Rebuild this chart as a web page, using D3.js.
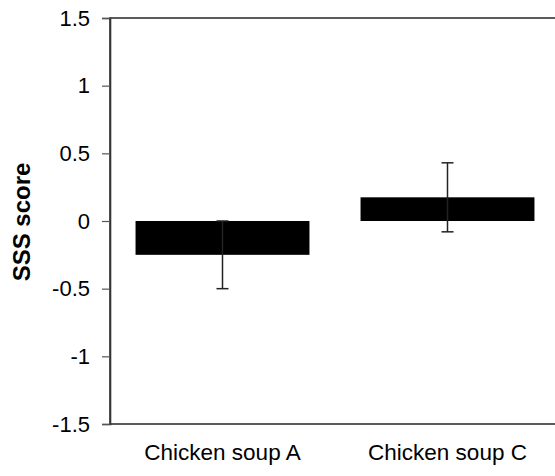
<!DOCTYPE html>
<html>
<head>
<meta charset="utf-8">
<script src="https://cdn.jsdelivr.net/npm/d3@7"></script>
<style>
  body { margin: 0; background: #fff; }
  svg { display: block; font-family: "Liberation Sans", Arial, sans-serif; }
</style>
</head>
<body>
<div id="chart"></div>
<script>
(function () {
    'use strict';

    // data
    var categories = ["Chicken soup A", "Chicken soup C"];
    var means = [-0.25, 0.175];
    var errors = [0.25, 0.255];
    var yTicks = [-1.5, -1, -0.5, 0, 0.5, 1, 1.5];
    var yTitle = "SSS score";

    var width = 555, height = 476;
    var left = 110, top = 18, bottom = 424, right = 560;

    var svg = d3.select("#chart").append("svg")
        .attr("width", width)
        .attr("height", height);

    var y = d3.scaleLinear().domain([-1.5, 1.5]).range([bottom, top]);
    var x = d3.scaleBand().domain(categories).range([left, right])
        .paddingInner(0.227).paddingOuter(0.1135);

    // frame (right side falls off the canvas)
    svg.append("rect")
        .attr("x", left).attr("y", top)
        .attr("width", right - left).attr("height", bottom - top)
        .attr("fill", "none").attr("stroke", "#333").attr("stroke-width", 1.6);

    // bars
    svg.selectAll("rect.bar")
        .data(means)
        .enter().append("rect")
        .attr("class", "bar")
        .attr("x", (d, i) => x(categories[i]))
        .attr("width", x.bandwidth())
        .attr("y", d => y(Math.max(0, d)))
        .attr("height", d => Math.abs(y(d) - y(0)))
        .attr("fill", "#000");

    // error bars
    var eb = svg.selectAll("g.err")
        .data(means)
        .enter().append("g")
        .attr("class", "err")
        .attr("stroke", "#222")
        .attr("stroke-width", 1.5);
    var cx = (d, i) => x(categories[i]) + x.bandwidth() / 2;
    eb.append("line")
        .attr("x1", cx).attr("x2", cx)
        .attr("y1", (d, i) => y(d + errors[i]))
        .attr("y2", (d, i) => y(d - errors[i]));
    eb.append("line")
        .attr("x1", (d, i) => cx(d, i) - 6).attr("x2", (d, i) => cx(d, i) + 6)
        .attr("y1", (d, i) => y(d + errors[i]))
        .attr("y2", (d, i) => y(d + errors[i]));
    eb.append("line")
        .attr("x1", (d, i) => cx(d, i) - 6).attr("x2", (d, i) => cx(d, i) + 6)
        .attr("y1", (d, i) => y(d - errors[i]))
        .attr("y2", (d, i) => y(d - errors[i]));

    // y axis, plain hyphen for negatives like the original
    var yAxis = svg.append("g")
        .attr("transform", "translate(" + left + ",0)")
        .call(d3.axisLeft(y).tickValues(yTicks)
            .tickFormat(d => String(d))
            .tickSize(8).tickPadding(12));
    yAxis.select(".domain").attr("stroke", "#333").attr("stroke-width", 1.6);
    yAxis.selectAll(".tick line").attr("stroke", "#555").attr("stroke-width", 1.2);
    yAxis.selectAll("text")
        .attr("fill", "#000")
        .style("font-size", "22px")
        .style("font-family", "'Liberation Sans', Arial, sans-serif");

    // category labels
    svg.selectAll("text.cat")
        .data(categories)
        .enter().append("text")
        .attr("class", "cat")
        .attr("x", d => x(d) + x.bandwidth() / 2)
        .attr("y", 460)
        .attr("text-anchor", "middle")
        .style("font-size", "22.5px")
        .text(d => d);

    // y title
    svg.append("text")
        .attr("transform", "translate(30,222) rotate(-90)")
        .attr("text-anchor", "middle")
        .style("font-size", "24px")
        .style("font-weight", "bold")
        .text(yTitle);
}());
</script>
</body>
</html>
